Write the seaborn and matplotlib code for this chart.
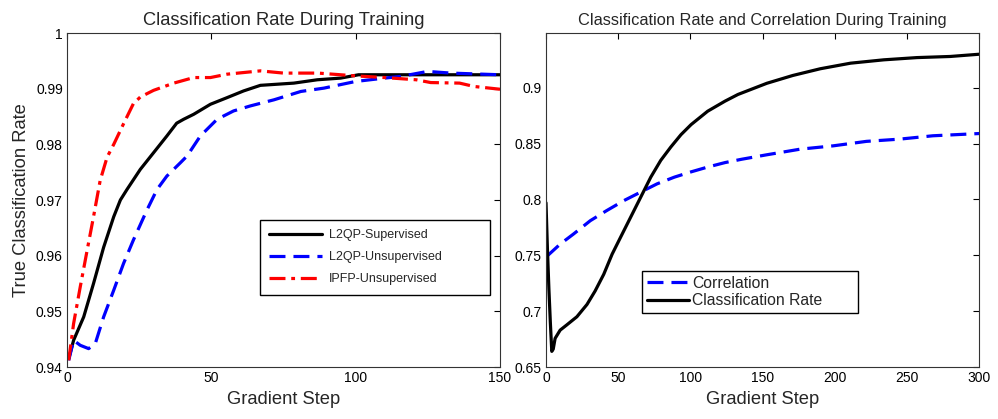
import matplotlib
matplotlib.use("Agg")
import matplotlib.pyplot as plt
import seaborn as sns

# === Datos panel izquierdo (tasa de clasificacion) ===
sup_x = [0.6, 2.3, 5.8, 9.2, 12.7, 16.2, 18.5, 20.8, 25.4, 30, 34.6, 38, 40.4, 43.9, 49.7,
         55.5, 61.2, 67, 78.6, 86.7, 94.8, 101, 110, 150]
sup_y = [0.9415, 0.9448, 0.949, 0.955, 0.9615, 0.967, 0.970, 0.9719, 0.9755, 0.9785, 0.9815,
         0.9838, 0.9845, 0.9854, 0.9872, 0.9884, 0.9896, 0.9906, 0.991, 0.9916, 0.9919, 0.9925,
         0.9925, 0.9925]

unsup_x = [0.6, 2.3, 4.6, 7.5, 9.8, 12.7, 16.2, 19.6, 23, 27.7, 31.2, 34.6, 39.3, 41.6, 46.2,
           52, 57.7, 63.5, 71.7, 81, 89, 100, 110, 115.6, 124.9, 133, 150]
unsup_y = [0.9412, 0.9448, 0.9439, 0.9433, 0.9442, 0.949, 0.9538, 0.9586, 0.9628, 0.9682, 0.9719,
           0.9743, 0.9767, 0.9779, 0.9815, 0.9845, 0.986, 0.9869, 0.988, 0.9895, 0.9901, 0.9913,
           0.9919, 0.9922, 0.9931, 0.9928, 0.9925]

ipfp_x = [0.6, 2.3, 4.6, 7, 9.2, 11.5, 13.9, 16.2, 19.6, 23, 25.4, 30, 37, 43.9, 49.7, 55.4,
          61.2, 67, 75, 87, 100, 110, 121, 126, 136, 141, 150]
ipfp_y = [0.9412, 0.9478, 0.9544, 0.961, 0.967, 0.9735, 0.9777, 0.980, 0.9837, 0.9873, 0.9885,
          0.9897, 0.991, 0.992, 0.992, 0.9926, 0.9929, 0.9932, 0.9928, 0.9928, 0.9923, 0.992,
          0.9916, 0.9911, 0.991, 0.9904, 0.9899]

# === Datos panel derecho (correlacion y tasa) ===
corr_x = [0.5, 9.8, 19, 30.7, 42, 54, 65.6, 77, 89, 100.5, 112, 124, 135.6, 153, 176, 199, 222,
          245, 268, 300]
corr_y = [0.749, 0.760, 0.769, 0.781, 0.790, 0.799, 0.8066, 0.814, 0.820, 0.8247, 0.829, 0.833,
          0.836, 0.840, 0.845, 0.848, 0.852, 0.854, 0.857, 0.859]

rate_x = [0, 1, 2, 3, 4, 5, 6.3, 9.8, 14.4, 21.4, 28.4, 34, 40, 45.8, 51.6, 58.6, 65.6, 72.6,
          79.5, 86.5, 93.5, 100.5, 112, 124, 133, 143, 153, 171, 190, 211, 234, 257, 280, 300]
rate_y = [0.797, 0.755, 0.72, 0.69, 0.664, 0.666, 0.6756, 0.683, 0.6877, 0.695, 0.706, 0.718,
          0.733, 0.751, 0.766, 0.784, 0.802, 0.820, 0.835, 0.847, 0.858, 0.867, 0.879, 0.888,
          0.894, 0.899, 0.904, 0.911, 0.917, 0.922, 0.925, 0.927, 0.928, 0.930]

sns.set_style("white")
plt.rcParams['font.family'] = ['Liberation Sans', 'DejaVu Sans']

fig = plt.figure(figsize=(9.98, 4.19), dpi=100)
ax1 = fig.add_axes([0.0671, 0.1241, 0.4339, 0.7971])
ax2 = fig.add_axes([0.5471, 0.1241, 0.4339, 0.7971])

lw = 2.3
dashed = (0, (5, 2.5))
dashdot = (0, (5, 1.8, 1.2, 1.8))

sns.lineplot(x=sup_x, y=sup_y, ax=ax1, color="black", lw=lw, label="L2QP-Supervised")
sns.lineplot(x=unsup_x, y=unsup_y, ax=ax1, color="#0000ff", lw=lw, label="L2QP-Unsupervised",
             linestyle=dashed)
sns.lineplot(x=ipfp_x, y=ipfp_y, ax=ax1, color="#ff0000", lw=lw, label="IPFP-Unsupervised",
             linestyle=dashdot)

ax1.set_xlim(0, 150)
ax1.set_ylim(0.94, 1.0)
ax1.set_xticks([0, 50, 100, 150])
ax1.set_yticks([0.94, 0.95, 0.96, 0.97, 0.98, 0.99, 1.0])
ax1.set_yticklabels(["0.94", "0.95", "0.96", "0.97", "0.98", "0.99", "1"])
ax1.set_xlabel("Gradient Step", fontsize=13.2)
ax1.set_ylabel("True Classification Rate", fontsize=13.2)
ax1.set_title("Classification Rate During Training", fontsize=13.2)
ax1.legend(loc="upper left", bbox_to_anchor=(0.446, 0.2036, 0.531, 0.2365), mode="expand",
           borderaxespad=0, fontsize=9, handlelength=4.2, handletextpad=0.55,
           fancybox=False, edgecolor="black", framealpha=1, borderpad=0.75, labelspacing=0.8)

sns.lineplot(x=corr_x, y=corr_y, ax=ax2, color="#0000ff", lw=lw, label="Correlation",
             linestyle=dashed)
sns.lineplot(x=rate_x, y=rate_y, ax=ax2, color="black", lw=lw, label="Classification Rate")

ax2.set_xlim(0, 300)
ax2.set_ylim(0.65, 0.949)
ax2.set_xticks([0, 50, 100, 150, 200, 250, 300])
ax2.set_yticks([0.65, 0.7, 0.75, 0.8, 0.85, 0.9])
ax2.set_yticklabels(["0.65", "0.7", "0.75", "0.8", "0.85", "0.9"])
ax2.set_xlabel("Gradient Step", fontsize=13.2)
ax2.set_title("Classification Rate and Correlation During Training", fontsize=11.8)
ax2.legend(loc="upper left", bbox_to_anchor=(0.222, 0.161, 0.499, 0.126), mode="expand",
           borderaxespad=0, fontsize=11.3, handlelength=2.7, handletextpad=0.2,
           fancybox=False, edgecolor="black", framealpha=1, borderpad=0.3, labelspacing=0.15)

for ax in (ax1, ax2):
    ax.tick_params(direction="in", top=True, right=True, length=4, width=0.8,
                   labelsize=10, colors="black", pad=3)
    for s in ax.spines.values():
        s.set_color("#333333")
        s.set_linewidth(0.8)

fig.savefig("out.png", dpi=100)
